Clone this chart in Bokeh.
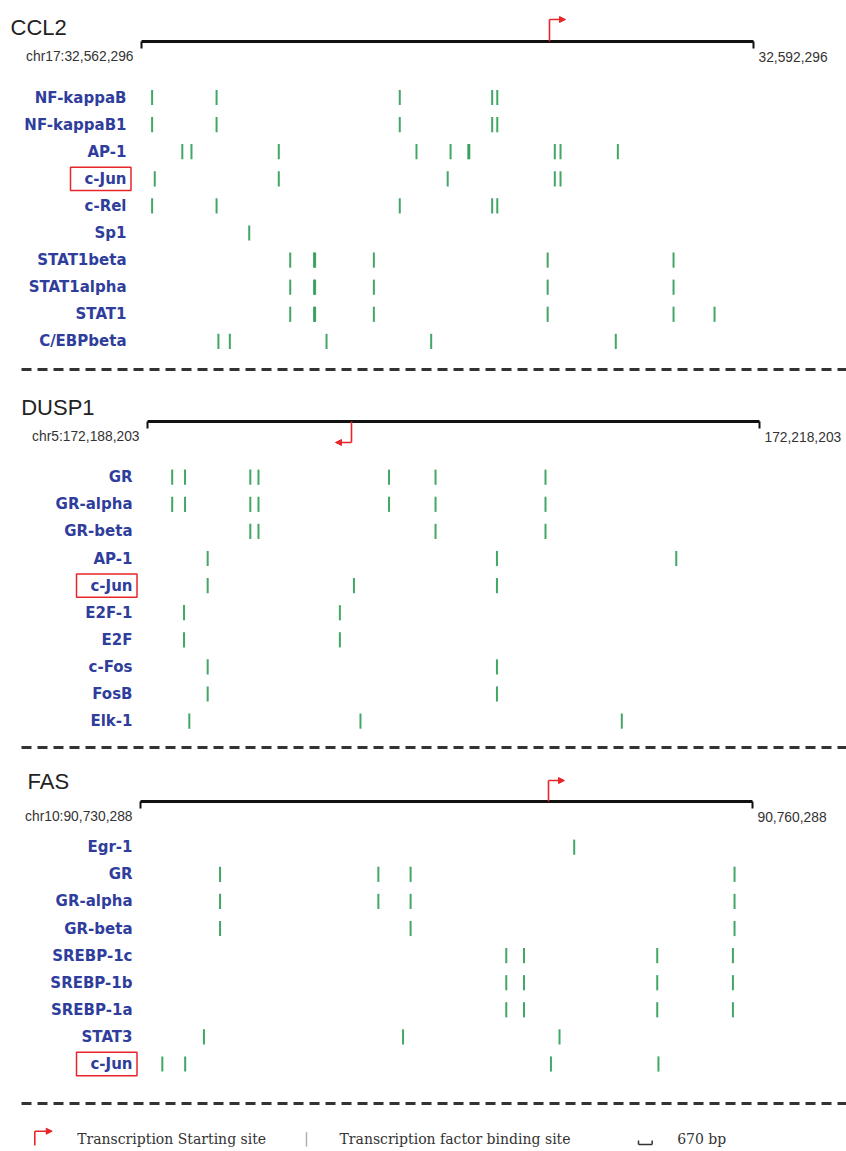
from bokeh.plotting import figure
from bokeh.models import Range1d, ColumnDataSource, Arrow, NormalHead
from bokeh.core.properties import value
from bokeh.embed import file_html
from bokeh.resources import INLINE

# ---------------- data (positions = bp offset from window start) ----------------
ccl2_gene = "CCL2"
ccl2_chrom = "chr17"
ccl2_start = 32562296
ccl2_end = 32592296
ccl2_tss = 20000
ccl2_strand = "+"
ccl2_factors = ["NF-kappaB", "NF-kappaB1", "AP-1", "c-Jun", "c-Rel", "Sp1",
                "STAT1beta", "STAT1alpha", "STAT1", "C/EBPbeta"]
ccl2_sites = [
    [520, 3680, 12660, 17190, 17440],
    [520, 3680, 12660, 17190, 17440],
    [2000, 2450, 6730, 13480, 15150, 16020, 16070, 20260, 20540, 23350],
    [650, 6730, 15010, 20260, 20540],
    [520, 3680, 12660, 17190, 17440],
    [5280],
    [7290, 8460, 8510, 11390, 19910, 26080],
    [7290, 8460, 8510, 11390, 19910, 26080],
    [7290, 8460, 8510, 11390, 19910, 26080, 28090],
    [3770, 4330, 9070, 14200, 23250],
]
ccl2_boxed = "c-Jun"

dusp1_gene = "DUSP1"
dusp1_chrom = "chr5"
dusp1_start = 172188203
dusp1_end = 172218203
dusp1_tss = 10000
dusp1_strand = "-"
dusp1_factors = ["GR", "GR-alpha", "GR-beta", "AP-1", "c-Jun", "E2F-1", "E2F",
                 "c-Fos", "FosB", "Elk-1"]
dusp1_sites = [
    [1210, 1840, 5040, 5440, 11840, 14120, 19510],
    [1210, 1840, 5040, 5440, 11840, 14120, 19510],
    [5040, 5440, 14120, 19510],
    [2950, 17130, 25920],
    [2950, 10120, 17130],
    [1790, 9430],
    [1790, 9430],
    [2950, 17130],
    [2950, 17130],
    [2050, 10440, 23250],
]
dusp1_boxed = "c-Jun"

fas_gene = "FAS"
fas_chrom = "chr10"
fas_start = 90730288
fas_end = 90760288
fas_tss = 20000
fas_strand = "+"
fas_factors = ["Egr-1", "GR", "GR-alpha", "GR-beta", "SREBP-1c", "SREBP-1b",
               "SREBP-1a", "STAT3", "c-Jun"]
fas_sites = [
    [21260],
    [3900, 11660, 13240, 29120],
    [3900, 11660, 13240, 29120],
    [3900, 13240, 29120],
    [17930, 18800, 25330, 29040],
    [17930, 18800, 25330, 29040],
    [17930, 18800, 25330, 29040],
    [3110, 12870, 20540],
    [1070, 2190, 20120, 25390],
]
fas_boxed = "c-Jun"

legend_texts = ["Transcription Starting site", "Transcription factor binding site", "670 bp"]
scale_bar_bp = 670

# ---------------- layout / style ----------------
W, H = 846, 1151
BP_PER_PX = 30000 / 612
ROW = 27.1
GREEN = "#2e9c55"
BLUE = "#2f3d9c"
RED = "#e8262a"
DARK = "#111111"

panels = [
    dict(key="ccl2", gene=ccl2_gene, chrom=ccl2_chrom, start=ccl2_start, end=ccl2_end,
         tss=ccl2_tss, strand=ccl2_strand, factors=ccl2_factors, sites=ccl2_sites,
         boxed=ccl2_boxed, title_x=10, title_y=26.7, bar_x0=141, bar_y=41,
         row_y0=97, label_right=126, tss_dy=-22),
    dict(key="dusp1", gene=dusp1_gene, chrom=dusp1_chrom, start=dusp1_start, end=dusp1_end,
         tss=dusp1_tss, strand=dusp1_strand, factors=dusp1_factors, sites=dusp1_sites,
         boxed=dusp1_boxed, title_x=20.7, title_y=406.7, bar_x0=147, bar_y=421,
         row_y0=476.7, label_right=132, tss_dy=21),
    dict(key="fas", gene=fas_gene, chrom=fas_chrom, start=fas_start, end=fas_end,
         tss=fas_tss, strand=fas_strand, factors=fas_factors, sites=fas_sites,
         boxed=fas_boxed, title_x=27, title_y=780.7, bar_x0=140, bar_y=801,
         row_y0=846.7, label_right=132, tss_dy=-21),
]

p = figure(width=W, height=H, x_range=Range1d(0, W), y_range=Range1d(H, 0),
           x_axis_type=None, y_axis_type=None, toolbar_location=None,
           output_backend="svg", min_border=0, outline_line_color=None,
           background_fill_color="white", border_fill_color="white")

xr_map, yr_map = {}, {}
for g in panels:
    xr_map[g["key"] + "_x"] = Range1d(-g["bar_x0"] * BP_PER_PX, (W - g["bar_x0"]) * BP_PER_PX)
    yr_map[g["key"] + "_y"] = Range1d((H - g["row_y0"]) / ROW, -g["row_y0"] / ROW)
SCALE_X0 = 638
xr_map["scale_x"] = Range1d(-SCALE_X0 * BP_PER_PX, (W - SCALE_X0) * BP_PER_PX)
p.extra_x_ranges = xr_map
p.extra_y_ranges = yr_map

for g in panels:
    xr = g["key"] + "_x"
    yr = g["key"] + "_y"
    length = g["end"] - g["start"]
    by = g["bar_y"]
    # gene title
    p.text(x=[g["title_x"]], y=[g["title_y"]], text=[g["gene"]], text_align="left",
           text_baseline="alphabetic", text_font=value("Liberation Sans"),
           text_font_size="22px", text_color="#222222")
    # window bar
    p.segment(x0=[0], y0=[by], x1=[length], y1=[by], x_range_name=xr,
              line_width=3, line_color=DARK)
    p.segment(x0=[0, length], y0=[by, by], x1=[0, length], y1=[by + 7, by + 7],
              x_range_name=xr, line_width=2, line_color=DARK)
    # coordinates
    p.text(x=[0], y=[by + 15], text=[f"{g['chrom']}:{g['start']:,}"], x_offset=-8,
           text_align="right", text_baseline="middle", x_range_name=xr,
           text_font=value("Liberation Sans"), text_font_size="13.8px", text_color="#333333")
    p.text(x=[length], y=[by + 15], text=[f"{g['end']:,}"], x_offset=5,
           text_align="left", text_baseline="middle", x_range_name=xr,
           text_font=value("Liberation Sans"), text_font_size="13.8px", text_color="#333333")
    # TSS arrow
    ty = by + g["tss_dy"]
    direction = 1 if g["strand"] == "+" else -1
    p.segment(x0=[g["tss"]], y0=[by], x1=[g["tss"]], y1=[ty], x_range_name=xr,
              line_width=1.6, line_color=RED)
    p.add_layout(Arrow(end=NormalHead(size=6, fill_color=RED, line_color=RED),
                       x_start=g["tss"], y_start=ty,
                       x_end=g["tss"] + direction * 16 * BP_PER_PX, y_end=ty,
                       line_color=RED, line_width=1.6, x_range_name=xr))
    # binding sites
    xs, rows = [], []
    for i, sites in enumerate(g["sites"]):
        for s in sites:
            xs.append(s)
            rows.append(i)
    src = ColumnDataSource(dict(x=xs, y0=[r - 0.28 for r in rows], y1=[r + 0.28 for r in rows]))
    p.segment(x0="x", y0="y0", x1="x", y1="y1", source=src, x_range_name=xr,
              y_range_name=yr, line_width=2, line_color=GREEN, line_alpha=0.9)
    # factor labels
    n = len(g["factors"])
    p.text(x=[g["label_right"]] * n, y=list(range(n)), text=g["factors"],
           text_align="right", text_baseline="middle", y_range_name=yr,
           text_font=value("DejaVu Sans"), text_font_style="bold",
           text_font_size="15px", text_color=BLUE)
    bi = g["factors"].index(g["boxed"])
    p.quad(left=[g["label_right"] - 56], right=[g["label_right"] + 4.5],
           top=[bi - 0.43], bottom=[bi + 0.43], y_range_name=yr,
           fill_color=None, line_color=RED, line_width=1.5)

# dashed separators
sep_y = [369, 747, 1103]
p.segment(x0=[21] * 3, y0=sep_y, x1=[W] * 3, y1=sep_y, line_width=3,
          line_color="#333333", line_dash="10 6")

# legend
LY = 1138
p.segment(x0=[34.3], y0=[1145], x1=[34.3], y1=[1130.7], line_width=1.6, line_color=RED)
p.add_layout(Arrow(end=NormalHead(size=6, fill_color=RED, line_color=RED),
                   x_start=34.3, y_start=1130.7, x_end=51.7, y_end=1130.7,
                   line_color=RED, line_width=1.6))
p.segment(x0=[306], y0=[1131.7], x1=[306], y1=[1146], line_width=1.5, line_color="#b0b0b0")
p.segment(x0=[0], y0=[1144], x1=[scale_bar_bp], y1=[1144], x_range_name="scale_x",
          line_width=1.5, line_color="#333333")
p.segment(x0=[0, scale_bar_bp], y0=[1140, 1140], x1=[0, scale_bar_bp], y1=[1144, 1144],
          x_range_name="scale_x", line_width=1.5, line_color="#333333")
p.text(x=[76.7, 339, 676.7], y=[LY] * 3, text=legend_texts, text_align="left",
       text_baseline="middle", text_font=value("DejaVu Serif"), text_font_size="14px",
       text_color="#333333")

open("out.html", "w").write(file_html(p, INLINE))
